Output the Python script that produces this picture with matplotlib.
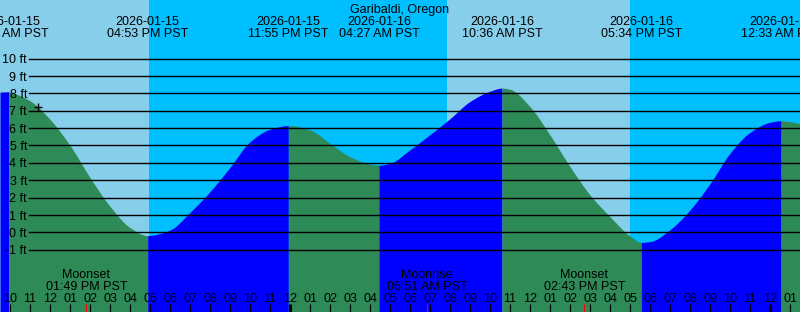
import numpy as np
import pandas as pd
import matplotlib
matplotlib.use("Agg")
import matplotlib.pyplot as plt
import matplotlib.transforms as mtransforms

plt.rcParams['font.family'] = ['Liberation Sans', 'DejaVu Sans']

#Start of the time axis (hours are counted from here)
day0 = pd.Timestamp("2026-01-15 00:00")

#Tide extremes (high / low)
tide_times = ["2026-01-15 09:56 AM", "2026-01-15 04:53 PM", "2026-01-15 11:55 PM",
              "2026-01-16 04:27 AM", "2026-01-16 10:36 AM", "2026-01-16 05:34 PM",
              "2026-01-17 12:33 AM"]
tide_heights = [8.09, -0.19, 6.14, 3.86, 8.30, -0.58, 6.42]

#Tide level read every hour (hours from day0)
reading_hours = [9.5, 10, 11, 12, 13, 14, 15, 16, 17, 18, 19, 20, 21, 22, 23, 24,
                 25, 26, 27, 28, 29, 30, 31, 32, 33, 34, 35, 36, 37, 38, 39, 40,
                 41, 42, 43, 44, 45, 46, 47, 48, 49, 49.5]
reading_heights = [8.07, 8.07, 7.57, 6.50, 5.00, 3.15, 1.50, 0.27, -0.18, 0.13, 1.15,
                   2.34, 3.74, 5.21, 5.93, 6.14, 5.89, 5.12, 4.35, 3.93, 3.97, 4.75,
                   5.62, 6.54, 7.53, 8.12, 8.23, 7.23, 5.60, 3.78, 2.15, 0.90, -0.21,
                   -0.54, 0.15, 1.29, 2.80, 4.55, 5.75, 6.33, 6.37, 6.25]

#Sun and moon events
sun_times = ["2026-01-15 04:57 PM", "2026-01-16 07:50 AM", "2026-01-16 05:00 PM"]
moon_names = ["Moonset", "Moonrise", "Moonset"]
moon_times = ["2026-01-15 01:49 PM", "2026-01-16 06:51 AM", "2026-01-16 02:43 PM"]
now_time = "2026-01-15 11:24 AM"

levels = list(range(-1, 11))
title = "Garibaldi, Oregon"


def to_hours(s):
    return (pd.Timestamp(s) - day0) / pd.Timedelta(hours=1)


def pchip(x, y, xs):
    #monotone cubic through the read points (keeps highs and lows in place)
    hs = np.diff(x)
    d = np.diff(y) / hs
    m = np.zeros_like(y)
    m[0], m[-1] = d[0], d[-1]
    for k in range(1, len(x) - 1):
        if d[k - 1] * d[k] > 0:
            w1 = 2 * hs[k] + hs[k - 1]
            w2 = hs[k] + 2 * hs[k - 1]
            m[k] = (w1 + w2) / (w1 / d[k - 1] + w2 / d[k])
    i = np.clip(np.searchsorted(x, xs) - 1, 0, len(x) - 2)
    t = (xs - x[i]) / hs[i]
    h00 = 2 * t**3 - 3 * t**2 + 1
    h10 = t**3 - 2 * t**2 + t
    h01 = -2 * t**3 + 3 * t**2
    h11 = t**3 - t**2
    return h00 * y[i] + h10 * hs[i] * m[i] + h01 * y[i + 1] + h11 * hs[i] * m[i + 1]


tide_h = np.array([to_hours(t) for t in tide_times])
sun_h = [to_hours(t) for t in sun_times]
moon_h = [to_hours(t) for t in moon_times]
now_h = to_hours(now_time)

#Join readings and extremes into one curve
h_pts = np.concatenate([reading_hours, tide_h])
v_pts = np.concatenate([reading_heights, tide_heights])
order = np.argsort(h_pts)
h_pts, v_pts = h_pts[order], v_pts[order]

W, H = 800, 312
fig = plt.figure(figsize=(W / 100, H / 100), dpi=100)
ax = fig.add_axes([0, 0, 1, 1])
x0, x1 = 9.5, 49.5
ppf = 17.375
y_top = 232.3 / ppf
y_bot = -(H - 232.3) / ppf
ax.set_xlim(x0, x1)
ax.set_ylim(y_bot, y_top)
ax.axis("off")

h_all = np.unique(np.concatenate([np.linspace(x0, x1, 2401), tide_h]))
v_all = pchip(h_pts, v_pts, h_all)

#Day / night background
day_c, night_c = "#87CEEB", "#00BFFF"
edges = [x0] + sun_h + [x1]
for i in range(len(edges) - 1):
    ax.axvspan(edges[i], edges[i + 1], color=day_c if i % 2 == 0 else night_c, lw=0, zorder=0)

#Water: blue when rising, green when falling
bounds = [x0] + list(tide_h) + [x1]
for i in range(len(bounds) - 1):
    a, b = bounds[i], bounds[i + 1]
    m = (h_all >= a) & (h_all <= b)
    rising = v_all[m][-1] > v_all[m][0]
    ax.fill_between(h_all[m], y_bot, v_all[m], color="#0000FF" if rising else "#2E8B57",
                    lw=0, zorder=1)

#Level lines and labels
trans_y = ax.get_yaxis_transform()
off = mtransforms.offset_copy(trans_y, fig=fig, x=0, y=-3.3, units="points")
for lv in levels:
    ax.axhline(lv, xmin=29 / W, xmax=1, color="black", lw=1.0, zorder=2)
    ax.text(27 / W, lv, f"{lv} ft", transform=off, ha="right", va="baseline",
            fontsize=9, zorder=3)

#Current time marker
ax.plot(now_h, pchip(h_pts, v_pts, np.array([now_h]))[0], marker="+", color="black",
        markersize=6, mew=1, zorder=4)

#Top labels
trans_x = ax.get_xaxis_transform()
ax.text(0.5, 1 - 12.7 / H, title, transform=ax.transAxes, ha="center", va="baseline", fontsize=9)
for t in tide_times:
    ts = pd.Timestamp(t)
    h = to_hours(t)
    ax.text(h, 1 - 25 / H, ts.strftime("%Y-%m-%d"), transform=trans_x,
            ha="center", va="baseline", fontsize=9, zorder=5)
    ax.text(h, 1 - 36.7 / H, ts.strftime("%I:%M %p PST"), transform=trans_x,
            ha="center", va="baseline", fontsize=9, zorder=5)

#Moon labels
for name, t in zip(moon_names, moon_times):
    h = to_hours(t)
    ax.text(h, 1 - 277.7 / H, name, transform=trans_x, ha="center", va="baseline", fontsize=9)
    ax.text(h, 1 - 290.3 / H, pd.Timestamp(t).strftime("%I:%M %p PST"), transform=trans_x,
            ha="center", va="baseline", fontsize=9)

#Hour labels and ticks
hours = np.arange(10, 50)
tick_top = 8 / H
for h in hours:
    lab = (day0 + pd.Timedelta(hours=int(h))).strftime("%I")
    ax.text(h, 1 - 302 / H, lab, transform=trans_x, ha="center", va="baseline", fontsize=9)
    thick = h % 24 == 0
    ax.vlines(h, 0, tick_top, transform=trans_x, color="black", lw=2.2 if thick else 0.8)
ax.vlines(moon_h, 0, tick_top, transform=trans_x, color="red", lw=0.8)

plt.savefig("out.png", dpi=100)
